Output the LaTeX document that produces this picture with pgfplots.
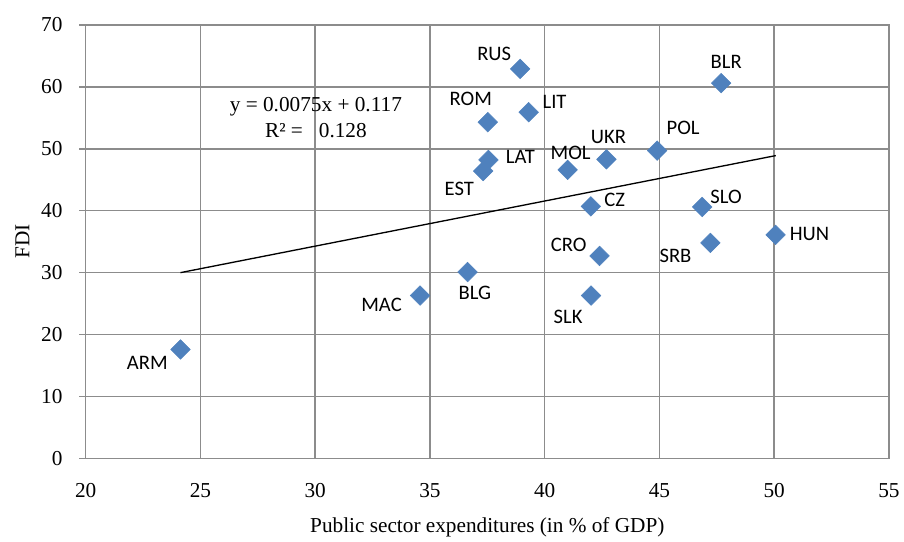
\documentclass[border=0pt]{standalone}
\usepackage{pgfplots}
\pgfplotsset{compat=1.18}
\usepackage{pgfplotstable}
\usepackage{fontspec}
\setmainfont{Liberation Serif}
\newfontfamily\lblfont{Carlito}

\definecolor{markblue}{HTML}{4F81BD}
\definecolor{gridgray}{HTML}{8C8C8C}

% x = public sector expenditures, y = FDI, dx/dy = offset of the country label (pt)
\pgfplotstableread{
x      y     name  dx      dy
24.13  17.6  ARM   -25.0   -10.5
34.57  26.3  MAC   -29.0   -7.0
36.64  30.1  BLG   5.5     -16.0
37.32  46.4  EST   -18.0   -13.5
37.55  48.2  LAT   24.0    2.25
37.52  54.3  ROM   -12.75  17.25
38.93  62.9  RUS   -19.5   11.25
39.30  55.9  LIT   19.5    7.5
41.00  46.6  MOL   2.25    12.75
42.69  48.3  UKR   1.5     16.5
42.01  40.7  CZ    18.0    5.25
42.39  32.7  CRO   -23.25  8.25
42.02  26.3  SLK   -17.25  -15.75
44.90  49.7  POL   19.5    17.25
46.86  40.6  SLO   18.0    7.5
47.22  34.8  SRB   -26.25  -9.75
50.06  36.1  HUN   25.5    0.75
47.69  60.6  BLR   3.75    15.75
}\fdidata

\begin{document}
\begin{tikzpicture}
\path (-64.5pt,-57pt) rectangle (613.5pt,345pt);
\begin{axis}[
  at={(0,0)}, anchor=south west,
  scale only axis,
  width=604.5pt, height=326.25pt,
  xmin=20, xmax=55, ymin=0, ymax=70,
  xtick={20,25,...,55}, ytick={0,10,...,70},
  grid=major,
  major grid style={gridgray, line width=1.1pt},
  axis line style={gridgray, line width=1.1pt},
  xtick style={draw=none},
  ytick style={gridgray, line width=1.1pt},
  ytick pos=left, tick align=outside, major tick length=5pt,
  /pgf/number format/assume math mode=true,
  ticklabel style={font=\fontsize{16}{18}\selectfont},
  yticklabel style={xshift=-9pt},
  xticklabel style={anchor=north, yshift=-10pt, text height=11pt, text depth=0pt},
  xlabel={Public sector expenditures (in \% of GDP)},
  ylabel={FDI},
  label style={font=\fontsize{16}{18}\selectfont},
  xlabel style={yshift=-8pt},
  ylabel style={yshift=2pt},
  clip=false,
]
\addplot[black, line width=1pt, no marks] coordinates {(24.13,30.0) (50.07,48.9)};
\addplot[
  only marks,
  mark=square*,
  mark size=5.2pt,
  mark options={rotate=45, fill=markblue, draw=markblue},
  point meta=explicit symbolic,
  visualization depends on={\thisrow{dx} \as \ldx},
  visualization depends on={\thisrow{dy} \as \ldy},
  nodes near coords,
  every node near coord/.append style={anchor=center, xshift=\ldx pt, yshift=\ldy pt,
    font=\lblfont\fontsize{15.5}{17}\selectfont, inner sep=0pt, text=black},
] table[x=x, y=y, meta=name] {\fdidata};
\node[align=center, font=\fontsize{16}{19.3}\selectfont] at (axis cs:30.03,55.0)
  {y = 0.0075x + 0.117\\R² = \ \ 0.128};
\end{axis}
\end{tikzpicture}
\end{document}
